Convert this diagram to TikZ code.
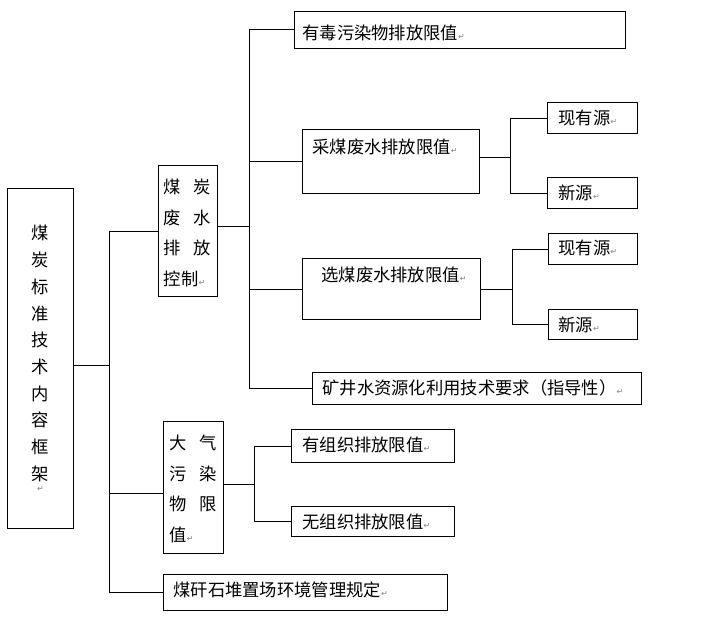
\documentclass[tikz,border=0pt]{standalone}
\usepackage{fontspec}
\newfontfamily\cjk{Noto Sans CJK SC}
\newfontfamily\symb{DejaVu Sans}
\newcommand\retmark{{\symb\fontsize{8}{8}\selectfont\textcolor{gray}{↵}}}
\setlength\parindent{0pt}
\tikzset{
  box/.style={draw, line width=0.9pt, anchor=north west, inner ysep=0pt, align=left,
    font=\cjk\fontsize{17.3}{30.5}\selectfont},
  link/.style={line width=0.9pt}
}

\begin{document}
\begin{tikzpicture}[x=1pt,y=-1pt]
\useasboundingbox (0,0) rectangle (720,618);

% first level
\node[box, align=center, inner xsep=0pt, text width=66pt, text height=51.5pt, text depth=288.5pt,
  font=\cjk\fontsize{17.3}{26.7}\selectfont] (root) at (7,188)
  {煤\\炭\\标\\准\\技\\术\\内\\容\\框\\架\\[-15pt]\retmark};
\node[box, inner xsep=5.5pt, text width=48pt, text height=28.5pt, text depth=102.5pt] (water) at (158,165)
  {煤\hspace{12pt}炭\\废\hspace{12pt}水\\排\hspace{12pt}放\\控制\retmark};
\node[box, inner xsep=6pt, text width=48pt, text height=28.5pt, text depth=103.5pt] (air) at (163,421)
  {大\hspace{12.5pt}气\\污\hspace{12.5pt}染\\物\hspace{12.5pt}限\\值\retmark};
\node[box, inner xsep=10pt, text width=264pt, text height=22.5pt, text depth=13.5pt] (gangue) at (163,574)
  {煤矸石堆置场环境管理规定\retmark};

% second level
\node[box, inner xsep=8pt, text width=315pt, text height=28.5pt, text depth=8.5pt] (toxic) at (294,11)
  {有毒污染物排放限值\retmark};
\node[box, inner xsep=10pt, text width=157pt, text height=24.5pt, text depth=39.5pt] (mining) at (302,129)
  {采煤废水排放限值\retmark};
\node[box, inner xsep=19pt, text width=140pt, text height=23.5pt, text depth=37.5pt] (washing) at (302,258)
  {选煤废水排放限值\retmark};
\node[box, inner xsep=10pt, text width=309pt, text height=22.5pt, text depth=9.5pt] (minewater) at (312,372)
  {矿井水资源化利用技术要求（指导性）\retmark};
\node[box, inner xsep=11pt, text width=141pt, text height=22.5pt, text depth=10.5pt] (organized) at (291,429)
  {有组织排放限值\retmark};
\node[box, inner xsep=11pt, text width=141pt, text height=22.5pt, text depth=7.5pt] (fugitive) at (291,506)
  {无组织排放限值\retmark};

% third level
\node[box, inner xsep=11pt, text width=68pt, text height=22.5pt, text depth=8.5pt] (existA) at (547,102) {现有源\retmark};
\node[box, inner xsep=11pt, text width=68pt, text height=22.5pt, text depth=8.5pt] (newA) at (547,177) {新源\retmark};
\node[box, inner xsep=10pt, text width=69pt, text height=21.5pt, text depth=9.5pt] (existB) at (548,233) {现有源\retmark};
\node[box, inner xsep=10pt, text width=69pt, text height=22.5pt, text depth=7.5pt] (newB) at (548,309) {新源\retmark};

% junctions
\coordinate (j0) at (109,365);
\coordinate (j1) at (249,225);
\coordinate (j2) at (510,157);
\coordinate (j3) at (512,288);
\coordinate (j4) at (254,484);
\coordinate (airin) at ([yshift=-6pt]air.west);
\coordinate (waterout) at ([yshift=5pt]water.east);
\coordinate (miningout) at ([yshift=4pt]mining.east);
\coordinate (airout) at ([yshift=3pt]air.east);

\draw[link] (root.east |- j0) -- (j0);
\draw[link] (j0 |- water.west) -- (j0 |- gangue.west);
\draw[link] (j0 |- water.west) -- (water.west);
\draw[link] (j0 |- airin) -- (airin);
\draw[link] (j0 |- gangue.west) -- (gangue.west);

\draw[link] (waterout) -- (waterout -| j1);
\draw[link] (j1 |- toxic.west) -- (j1 |- minewater.west);
\foreach \n in {toxic, mining, washing, minewater}
  \draw[link] (j1 |- \n.west) -- (\n.west);

\draw[link] (miningout) -- (miningout -| j2);
\draw[link] (j2 |- existA.west) -- (j2 |- newA.west);
\draw[link] (j2 |- existA.west) -- (existA.west);
\draw[link] (j2 |- newA.west) -- (newA.west);

\draw[link] (washing.east) -- (washing.east -| j3);
\draw[link] (j3 |- existB.west) -- (j3 |- newB.west);
\draw[link] (j3 |- existB.west) -- (existB.west);
\draw[link] (j3 |- newB.west) -- (newB.west);

\draw[link] (airout) -- (airout -| j4);
\draw[link] (j4 |- organized.west) -- (j4 |- fugitive.west);
\draw[link] (j4 |- organized.west) -- (organized.west);
\draw[link] (j4 |- fugitive.west) -- (fugitive.west);
\end{tikzpicture}
\end{document}
